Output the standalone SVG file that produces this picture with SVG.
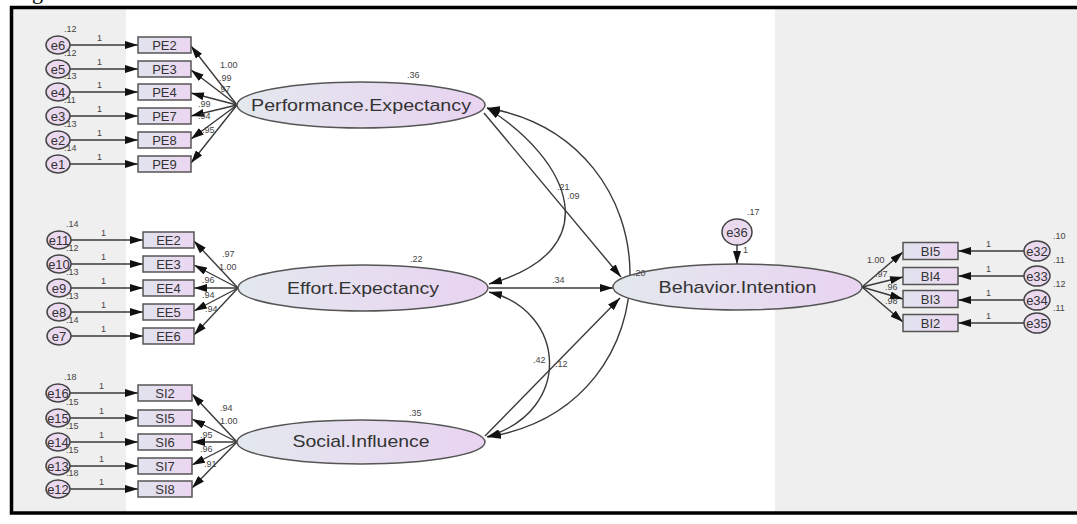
<svg xmlns="http://www.w3.org/2000/svg" width="1077" height="524" viewBox="0 0 1077 524">
<style>
.t{font-family:"Liberation Sans",Arial,sans-serif;fill:#333}
.sm{font-size:9px;fill:#444}
.bx{font-size:13px;text-anchor:middle}
.er{font-size:13px;text-anchor:middle}
.lt{font-size:17px;text-anchor:middle}
.box{fill:url(#gb);stroke:#555;stroke-width:1.5}
.ell{stroke:#555;stroke-width:1.5}
.err{fill:#ead9ef;stroke:#444;stroke-width:1.5}
.ln{stroke:#3a3a3a;stroke-width:1.4;fill:none;marker-end:url(#ah)}
.cv{stroke:#3a3a3a;stroke-width:1.4;fill:none;marker-end:url(#ah);marker-start:url(#ah)}
</style>
<defs>
<marker id="ah" markerUnits="userSpaceOnUse" markerWidth="13" markerHeight="8" refX="13" refY="4" orient="auto-start-reverse">
<path d="M0,0 L13,4 L0,8 z" fill="#111"/>
</marker>
<linearGradient id="gb" x1="0" y1="0" x2="1" y2="0">
<stop offset="0" stop-color="#e0e3ee"/>
<stop offset="1" stop-color="#ecd6f1"/>
</linearGradient>
<linearGradient id="ge" x1="0" y1="0" x2="1" y2="0">
<stop offset="0" stop-color="#e3e8ee"/>
<stop offset="1" stop-color="#e9d3f1"/>
</linearGradient>
</defs>

<text class="t" x="32" y="-1" style="font-family:'Liberation Serif',serif;font-size:22px;fill:#000">g</text>

<g id="background">
<rect x="13" y="9" width="113" height="503" fill="#efefef"/>
<rect x="775" y="9" width="302" height="503" fill="#efefef"/>
<rect x="11.5" y="7.5" width="1080" height="505.5" fill="none" stroke="#000" stroke-width="3.5"/>
</g>

<g id="connectors">
<!-- PE error arrows -->
<line class="ln" x1="70" y1="45" x2="138" y2="45"/>
<line class="ln" x1="70" y1="69" x2="138" y2="69"/>
<line class="ln" x1="70" y1="92" x2="138" y2="92"/>
<line class="ln" x1="70" y1="116" x2="138" y2="116"/>
<line class="ln" x1="70" y1="140" x2="138" y2="140"/>
<line class="ln" x1="70" y1="164" x2="138" y2="164"/>
<!-- EE error arrows -->
<line class="ln" x1="71" y1="240" x2="143" y2="240"/>
<line class="ln" x1="71" y1="264" x2="143" y2="264"/>
<line class="ln" x1="71" y1="288" x2="143" y2="288"/>
<line class="ln" x1="71" y1="312" x2="143" y2="312"/>
<line class="ln" x1="71" y1="336" x2="143" y2="336"/>
<!-- SI error arrows -->
<line class="ln" x1="70" y1="393" x2="138" y2="393"/>
<line class="ln" x1="70" y1="418" x2="138" y2="418"/>
<line class="ln" x1="70" y1="442" x2="138" y2="442"/>
<line class="ln" x1="70" y1="466" x2="138" y2="466"/>
<line class="ln" x1="70" y1="489" x2="138" y2="489"/>
<!-- PE loadings -->
<line class="ln" x1="237" y1="105" x2="191" y2="46"/>
<line class="ln" x1="237" y1="105" x2="191" y2="70"/>
<line class="ln" x1="237" y1="105" x2="191" y2="93"/>
<line class="ln" x1="237" y1="105" x2="191" y2="116"/>
<line class="ln" x1="237" y1="105" x2="191" y2="139"/>
<line class="ln" x1="237" y1="105" x2="191" y2="163"/>
<!-- EE loadings -->
<line class="ln" x1="238" y1="288" x2="194" y2="241"/>
<line class="ln" x1="238" y1="288" x2="194" y2="265"/>
<line class="ln" x1="238" y1="288" x2="194" y2="288"/>
<line class="ln" x1="238" y1="288" x2="194" y2="311"/>
<line class="ln" x1="238" y1="288" x2="194" y2="335"/>
<!-- SI loadings -->
<line class="ln" x1="237" y1="442" x2="192" y2="394"/>
<line class="ln" x1="237" y1="442" x2="192" y2="419"/>
<line class="ln" x1="237" y1="442" x2="192" y2="442"/>
<line class="ln" x1="237" y1="442" x2="192" y2="465"/>
<line class="ln" x1="237" y1="442" x2="192" y2="488"/>
<!-- BI loadings -->
<line class="ln" x1="862" y1="287" x2="903" y2="252"/>
<line class="ln" x1="862" y1="287" x2="903" y2="277"/>
<line class="ln" x1="862" y1="287" x2="903" y2="299"/>
<line class="ln" x1="862" y1="287" x2="903" y2="322"/>
<!-- BI errors -->
<line class="ln" x1="1024" y1="251" x2="958" y2="251"/>
<line class="ln" x1="1024" y1="276" x2="958" y2="276"/>
<line class="ln" x1="1024" y1="300" x2="958" y2="300"/>
<line class="ln" x1="1024" y1="323" x2="958" y2="323"/>
<!-- e36 -->
<line class="ln" x1="737" y1="245" x2="737" y2="264"/>
<!-- structural paths -->
<line class="ln" x1="484" y1="113" x2="621" y2="277"/>
<line class="ln" x1="489" y1="288" x2="613" y2="288"/>
<line class="ln" x1="485" y1="436" x2="620" y2="298"/>
<!-- covariances -->
<path class="cv" d="M487,108 C570,160 610,250 489,284"/>
<path class="cv" d="M487,108 C675,140 680,405 488,437"/>
<path class="cv" d="M489,292 C565,310 575,410 487,437"/>
</g>

<g class="t sm" id="edge-labels">
<text x="97" y="41">1</text><text x="97" y="65">1</text><text x="97" y="88">1</text><text x="97" y="112">1</text><text x="97" y="136">1</text><text x="97" y="160">1</text>
<text x="101" y="236">1</text><text x="101" y="260">1</text><text x="101" y="284">1</text><text x="101" y="308">1</text><text x="101" y="332">1</text>
<text x="99" y="389">1</text><text x="99" y="414">1</text><text x="99" y="438">1</text><text x="99" y="462">1</text><text x="99" y="485">1</text>
<text x="220" y="68">1.00</text><text x="219" y="81">.99</text><text x="218" y="92">.97</text><text x="198" y="107">.99</text><text x="198" y="119">.94</text><text x="202" y="133">.95</text>
<text x="222" y="257">.97</text><text x="219" y="270">1.00</text><text x="202" y="283">.96</text><text x="202" y="298">.94</text><text x="205" y="312">.94</text>
<text x="220" y="411">.94</text><text x="220" y="424">1.00</text><text x="200" y="438">.95</text><text x="200" y="452">.96</text><text x="204" y="467">.91</text>
<text x="867" y="263">1.00</text><text x="875" y="277">.97</text><text x="885" y="290">.96</text><text x="885" y="304">.98</text>
<text x="986" y="247">1</text><text x="986" y="272">1</text><text x="986" y="296">1</text><text x="986" y="319">1</text>
<text x="743" y="253">1</text>
<text x="557" y="190">.21</text><text x="567" y="199">.09</text>
<text x="552" y="283">.34</text>
<text x="533" y="363">.42</text><text x="555" y="367">.12</text>
</g>

<g id="PE.Expectancy">
<ellipse class="ell" cx="361" cy="105" rx="124" ry="23" fill="url(#ge)"/>
<text class="t lt" x="361" y="111" textLength="220" lengthAdjust="spacingAndGlyphs">Performance.Expectancy</text>
<text class="t sm" x="407" y="78">.36</text>
</g>
<g id="Effort.Expectancy">
<ellipse class="ell" cx="363" cy="288" rx="125" ry="23" fill="url(#ge)"/>
<text class="t lt" x="363" y="294" textLength="152" lengthAdjust="spacingAndGlyphs">Effort.Expectancy</text>
<text class="t sm" x="410" y="262">.22</text>
</g>
<g id="Social.Influence">
<ellipse class="ell" cx="361" cy="442" rx="124" ry="22" fill="url(#ge)"/>
<text class="t lt" x="361" y="447" textLength="137" lengthAdjust="spacingAndGlyphs">Social.Influence</text>
<text class="t sm" x="409" y="416">.35</text>
</g>
<g id="Behavior.Intention">
<ellipse class="ell" cx="737.5" cy="287" rx="124.5" ry="23" fill="url(#ge)"/>
<text class="t lt" x="737.5" y="293" textLength="158" lengthAdjust="spacingAndGlyphs">Behavior.Intention</text>
<text class="t sm" x="633" y="276">.20</text>
</g>

<g id="PE2"><rect class="box" x="138" y="37" width="53" height="16"/><text class="t bx" x="164.5" y="49.5">PE2</text></g>
<g id="PE3"><rect class="box" x="138" y="61" width="53" height="16"/><text class="t bx" x="164.5" y="73.5">PE3</text></g>
<g id="PE4"><rect class="box" x="138" y="84" width="53" height="16"/><text class="t bx" x="164.5" y="96.5">PE4</text></g>
<g id="PE7"><rect class="box" x="138" y="108" width="53" height="16"/><text class="t bx" x="164.5" y="120.5">PE7</text></g>
<g id="PE8"><rect class="box" x="138" y="132" width="53" height="16"/><text class="t bx" x="164.5" y="144.5">PE8</text></g>
<g id="PE9"><rect class="box" x="138" y="156" width="53" height="16"/><text class="t bx" x="164.5" y="168.5">PE9</text></g>

<g id="EE2"><rect class="box" x="143" y="232" width="51" height="16"/><text class="t bx" x="168.5" y="244.5">EE2</text></g>
<g id="EE3"><rect class="box" x="143" y="256" width="51" height="16"/><text class="t bx" x="168.5" y="268.5">EE3</text></g>
<g id="EE4"><rect class="box" x="143" y="280" width="51" height="16"/><text class="t bx" x="168.5" y="292.5">EE4</text></g>
<g id="EE5"><rect class="box" x="143" y="304" width="51" height="16"/><text class="t bx" x="168.5" y="316.5">EE5</text></g>
<g id="EE6"><rect class="box" x="143" y="328" width="51" height="16"/><text class="t bx" x="168.5" y="340.5">EE6</text></g>

<g id="SI2"><rect class="box" x="138" y="385" width="54" height="16"/><text class="t bx" x="165" y="397.5">SI2</text></g>
<g id="SI5"><rect class="box" x="138" y="410" width="54" height="16"/><text class="t bx" x="165" y="422.5">SI5</text></g>
<g id="SI6"><rect class="box" x="138" y="434" width="54" height="16"/><text class="t bx" x="165" y="446.5">SI6</text></g>
<g id="SI7"><rect class="box" x="138" y="458" width="54" height="16"/><text class="t bx" x="165" y="470.5">SI7</text></g>
<g id="SI8"><rect class="box" x="138" y="481" width="54" height="16"/><text class="t bx" x="165" y="493.5">SI8</text></g>

<g id="BI5"><rect class="box" x="903" y="242.5" width="55" height="17"/><text class="t bx" x="930.5" y="255.5">BI5</text></g>
<g id="BI4"><rect class="box" x="903" y="267.5" width="55" height="17"/><text class="t bx" x="930.5" y="280.5">BI4</text></g>
<g id="BI3"><rect class="box" x="903" y="290.5" width="55" height="17"/><text class="t bx" x="930.5" y="303.5">BI3</text></g>
<g id="BI2"><rect class="box" x="903" y="314.5" width="55" height="17"/><text class="t bx" x="930.5" y="327.5">BI2</text></g>

<g id="e6"><ellipse class="err" cx="58" cy="45" rx="12" ry="9"/><text class="t er" x="58" y="49.5">e6</text><text class="t sm" x="64" y="32">.12</text></g>
<g id="e5"><ellipse class="err" cx="58" cy="69" rx="12" ry="9"/><text class="t er" x="58" y="73.5">e5</text><text class="t sm" x="64" y="56">.12</text></g>
<g id="e4"><ellipse class="err" cx="58" cy="92" rx="12" ry="9"/><text class="t er" x="58" y="96.5">e4</text><text class="t sm" x="64" y="79">.13</text></g>
<g id="e3"><ellipse class="err" cx="58" cy="116" rx="12" ry="9"/><text class="t er" x="58" y="120.5">e3</text><text class="t sm" x="64" y="103">.11</text></g>
<g id="e2"><ellipse class="err" cx="58" cy="140" rx="12" ry="9"/><text class="t er" x="58" y="144.5">e2</text><text class="t sm" x="64" y="127">.13</text></g>
<g id="e1"><ellipse class="err" cx="58" cy="164" rx="12" ry="9"/><text class="t er" x="58" y="168.5">e1</text><text class="t sm" x="64" y="151">.14</text></g>

<g id="e11"><ellipse class="err" cx="59" cy="240" rx="12" ry="9"/><text class="t er" x="59" y="244.5">e11</text><text class="t sm" x="66" y="227">.14</text></g>
<g id="e10"><ellipse class="err" cx="59" cy="264" rx="12" ry="9"/><text class="t er" x="59" y="268.5">e10</text><text class="t sm" x="66" y="251">.12</text></g>
<g id="e9"><ellipse class="err" cx="59" cy="288" rx="12" ry="9"/><text class="t er" x="59" y="292.5">e9</text><text class="t sm" x="66" y="275">.13</text></g>
<g id="e8"><ellipse class="err" cx="59" cy="312" rx="12" ry="9"/><text class="t er" x="59" y="316.5">e8</text><text class="t sm" x="66" y="299">.13</text></g>
<g id="e7"><ellipse class="err" cx="59" cy="336" rx="12" ry="9"/><text class="t er" x="59" y="340.5">e7</text><text class="t sm" x="66" y="323">.14</text></g>

<g id="e16"><ellipse class="err" cx="58" cy="393" rx="12" ry="9"/><text class="t er" x="58" y="397.5">e16</text><text class="t sm" x="64" y="380">.18</text></g>
<g id="e15"><ellipse class="err" cx="58" cy="418" rx="12" ry="9"/><text class="t er" x="58" y="422.5">e15</text><text class="t sm" x="66" y="405">.15</text></g>
<g id="e14"><ellipse class="err" cx="58" cy="442" rx="12" ry="9"/><text class="t er" x="58" y="446.5">e14</text><text class="t sm" x="66" y="429">.15</text></g>
<g id="e13"><ellipse class="err" cx="58" cy="466" rx="12" ry="9"/><text class="t er" x="58" y="470.5">e13</text><text class="t sm" x="66" y="453">.15</text></g>
<g id="e12"><ellipse class="err" cx="58" cy="489" rx="12" ry="9"/><text class="t er" x="58" y="493.5">e12</text><text class="t sm" x="66" y="476">.18</text></g>

<g id="e36"><ellipse class="err" cx="737" cy="232" rx="15" ry="13"/><text class="t er" x="737" y="236.5">e36</text><text class="t sm" x="747" y="215">.17</text></g>

<g id="e32"><ellipse class="err" cx="1037" cy="251" rx="13" ry="10"/><text class="t er" x="1037" y="255.5">e32</text><text class="t sm" x="1053" y="239">.10</text></g>
<g id="e33"><ellipse class="err" cx="1037" cy="276" rx="13" ry="10"/><text class="t er" x="1037" y="280.5">e33</text><text class="t sm" x="1053" y="263">.11</text></g>
<g id="e34"><ellipse class="err" cx="1037" cy="300" rx="13" ry="10"/><text class="t er" x="1037" y="304.5">e34</text><text class="t sm" x="1053" y="287">.12</text></g>
<g id="e35"><ellipse class="err" cx="1037" cy="323" rx="13" ry="10"/><text class="t er" x="1037" y="327.5">e35</text><text class="t sm" x="1053" y="311">.11</text></g>
</svg>
